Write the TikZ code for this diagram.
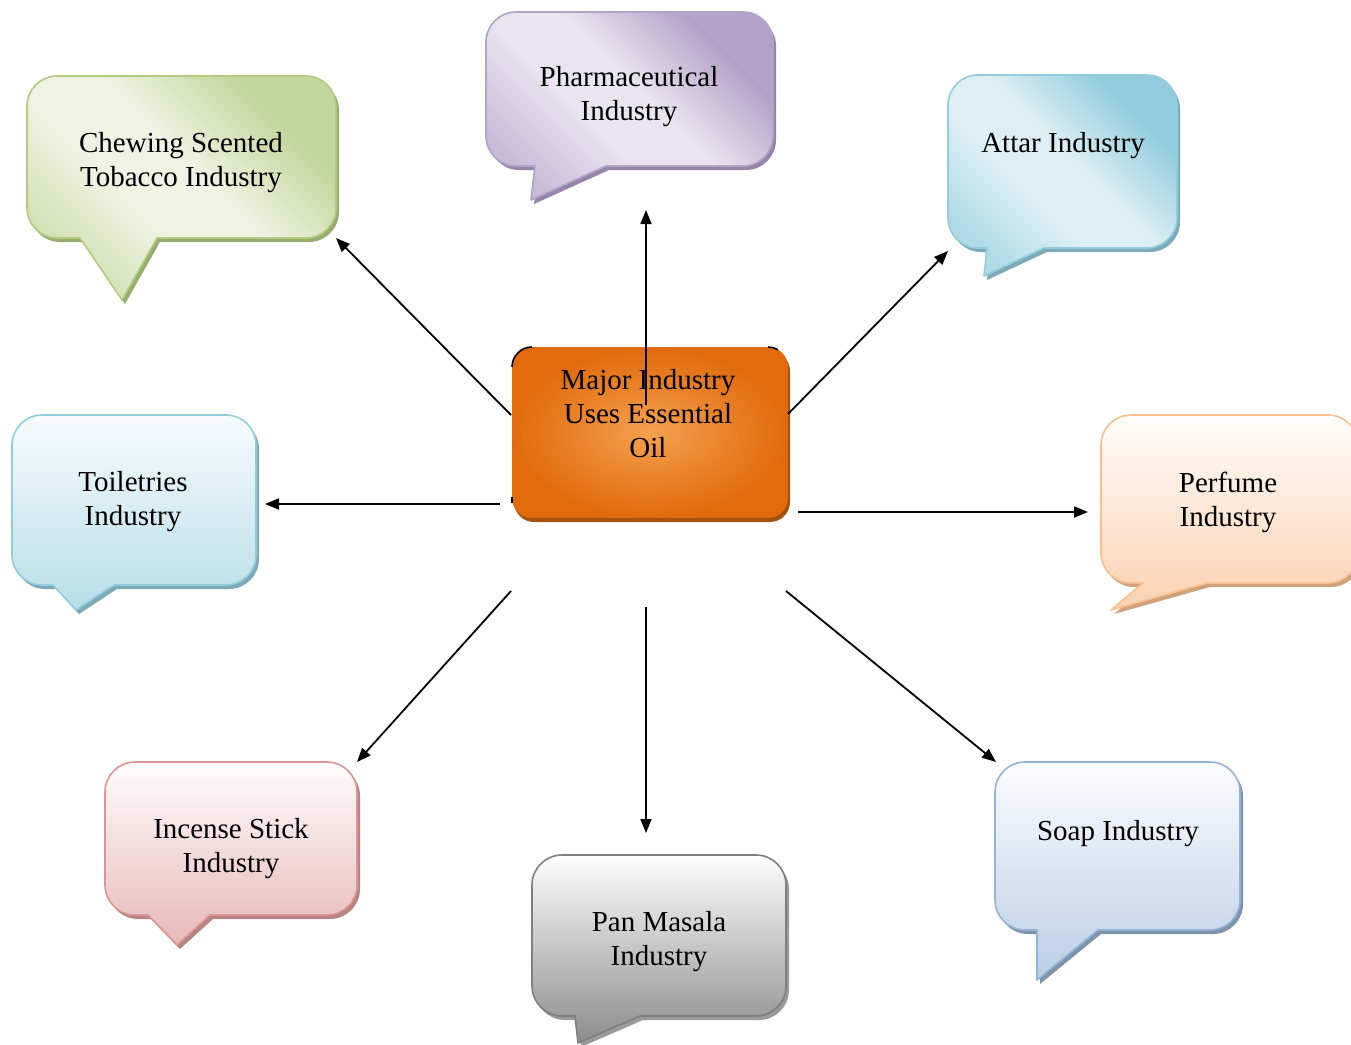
\documentclass[tikz,border=0pt]{standalone}
\usepackage{fontspec}
\setmainfont{Liberation Serif}
\usetikzlibrary{arrows.meta}
\definecolor{gDark}{HTML}{C3D69B}\definecolor{gLight}{HTML}{EEF4E4}\definecolor{gMid}{HTML}{D0DFB1}\definecolor{gLine}{HTML}{B3CB80}\definecolor{gSh}{HTML}{98AE70}
\definecolor{pDark}{HTML}{B3A2C7}\definecolor{pLight}{HTML}{E9E4EF}\definecolor{pMid}{HTML}{C8BBD8}\definecolor{pLine}{HTML}{B2A3C8}\definecolor{pSh}{HTML}{9585A8}
\definecolor{aDark}{HTML}{93CDDD}\definecolor{aLight}{HTML}{DEEFF4}\definecolor{aMid}{HTML}{ADDAE5}\definecolor{aLine}{HTML}{93CDDD}\definecolor{aSh}{HTML}{7CAAB7}
\definecolor{tTop}{HTML}{F7FBFD}\definecolor{tBot}{HTML}{B7DEE8}\definecolor{tLine}{HTML}{93CDDD}\definecolor{tSh}{HTML}{7CAAB7}
\definecolor{fTop}{HTML}{FFFCFA}\definecolor{fBot}{HTML}{FAD1B1}\definecolor{fLine}{HTML}{F9C091}\definecolor{fSh}{HTML}{D0A27C}
\definecolor{iTop}{HTML}{FFFCFC}\definecolor{iBot}{HTML}{E6B9B8}\definecolor{iLine}{HTML}{D99694}\definecolor{iSh}{HTML}{B58483}
\definecolor{mTop}{HTML}{FEFEFE}\definecolor{mBot}{HTML}{8C8C8C}\definecolor{mLine}{HTML}{7F7F7F}\definecolor{mSh}{HTML}{9A9A9A}
\definecolor{sTop}{HTML}{FCFDFE}\definecolor{sBot}{HTML}{B9CDE5}\definecolor{sLine}{HTML}{95B3D7}\definecolor{sSh}{HTML}{7F93AB}
\definecolor{oOut}{HTML}{E06A0C}\definecolor{oIn}{HTML}{F5A04E}\definecolor{oSh}{HTML}{A4520C}
\pgfdeclareverticalshading{gdiag}{100bp}{color(0bp)=(gMid); color(24bp)=(gMid); color(42bp)=(gLight); color(54bp)=(gLight); color(72bp)=(gDark); color(100bp)=(gDark)}
\pgfdeclareverticalshading{pdiag}{100bp}{color(0bp)=(pMid); color(24bp)=(pMid); color(42bp)=(pLight); color(54bp)=(pLight); color(72bp)=(pDark); color(100bp)=(pDark)}
\pgfdeclareverticalshading{adiag}{100bp}{color(0bp)=(aMid); color(24bp)=(aMid); color(42bp)=(aLight); color(54bp)=(aLight); color(72bp)=(aDark); color(100bp)=(aDark)}
\tikzset{
  bubble/.style n args={8}{insert path={(#1,#2+30) arc[start angle=180,end angle=270,radius=30] -- (#3-30,#2) arc[start angle=270,end angle=360,radius=30] -- (#3,#4-30) arc[start angle=0,end angle=90,radius=30] -- (#6,#4) -- (#7,#8) -- (#5,#4) -- (#1+30,#4) arc[start angle=90,end angle=180,radius=30] -- cycle}},
  bline/.style={line width=1.6pt, line join=round},
  greenfill/.style={bline, draw=gLine, shade, shading=gdiag, shading angle=-45},
  greenshadow/.style={fill=gSh},
  purplefill/.style={bline, draw=pLine, shade, shading=pdiag, shading angle=-45},
  purpleshadow/.style={fill=pSh},
  aquafill/.style={bline, draw=aLine, shade, shading=adiag, shading angle=-45},
  aquashadow/.style={fill=aSh},
  toilfill/.style={bline, draw=tLine, top color=tTop, bottom color=tBot},
  toilshadow/.style={fill=tSh},
  perffill/.style={bline, draw=fLine, top color=fTop, bottom color=fBot},
  perfshadow/.style={fill=fSh},
  incfill/.style={bline, draw=iLine, top color=iTop, bottom color=iBot},
  incshadow/.style={fill=iSh},
  panfill/.style={bline, draw=mLine, top color=mTop, bottom color=mBot},
  panshadow/.style={fill=mSh},
  soapfill/.style={bline, draw=sLine, top color=sTop, bottom color=sBot},
  soapshadow/.style={fill=sSh},
  txt/.style={align=center, inner sep=0pt, font=\fontsize{29}{34}\selectfont},
  cbox/.style={rounded corners=20pt, minimum width=276pt, minimum height=171pt, inner color=oIn, outer color=oOut},
  arr/.style={line width=1.8pt, -{Triangle[length=14pt,width=11pt]}},
  glitch/.style={line width=1.6pt, black}
}
\newcommand\Bubble[9]{%
  \fill[#1shadow, shift={(3,4)}, bubble={#2}{#3}{#4}{#5}{#6}{#7}{#8}{#9}];
  \draw[#1fill, bubble={#2}{#3}{#4}{#5}{#6}{#7}{#8}{#9}];}
\begin{document}
\begin{tikzpicture}[x=1pt,y=-1pt]
\useasboundingbox (0,0) rectangle (1351,1044);
\fill[white] (0,0) rectangle (1351,1044);
% bubbles
\Bubble{green}{27}{76}{336}{238}{80}{157}{122}{300}
\node[txt] (chew) at (181,163) {Chewing Scented\\Tobacco Industry};
\Bubble{purple}{486}{12}{773}{166}{535}{606}{531}{200}
\node[txt] (pharma) at (629,97) {Pharmaceutical\\Industry};
\Bubble{aqua}{948}{75}{1177}{248}{987}{1044}{984}{276}
\node[txt] (attar) at (1063,146) {Attar Industry};
\Bubble{toil}{12}{415}{256}{585}{53}{114}{76}{610}
\node[txt] (toil) at (133,502) {Toiletries\\Industry};
\Bubble{perf}{1101}{415}{1358}{583}{1143}{1207}{1111}{610}
\node[txt] (perf) at (1228,502) {Perfume\\Industry};
\Bubble{inc}{105}{762}{357}{915}{148}{210}{177}{945}
\node[txt] (inc) at (231,849) {Incense Stick\\Industry};
\Bubble{pan}{532}{855}{786}{1016}{575}{640}{578}{1043}
\node[txt] (pan) at (659,942) {Pan Masala\\Industry};
\Bubble{soap}{995}{762}{1240}{930}{1037}{1098}{1037}{980}
\node[txt] (soap) at (1118,834) {Soap Industry};
% central box
\fill[oSh, rounded corners=20pt] (514,351) rectangle (790,522);
\node[cbox] (center) at (650,432.5) {};
\node[txt] (centertxt) at (648,414) {Major Industry\\Uses Essential\\Oil};
\draw[glitch] (512,367) arc[start angle=180,end angle=270,radius=20];
\draw[glitch] (768,347) arc[start angle=270,end angle=300,radius=20];
\draw[glitch] (512,497) -- (512,503);
% arrow end points
\coordinate (s1) at (646,405);  \coordinate (e1) at (646,210);
\coordinate (s2) at (511,415);  \coordinate (e2) at (336,238);
\coordinate (s3) at (788,414);  \coordinate (e3) at (948,251);
\coordinate (s4) at (500,504);  \coordinate (e4) at (265,504);
\coordinate (s5) at (798,512);  \coordinate (e5) at (1088,512);
\coordinate (s6) at (511,591);  \coordinate (e6) at (357,762);
\coordinate (s7) at (646,607);  \coordinate (e7) at (646,833);
\coordinate (s8) at (786,591);  \coordinate (e8) at (996,762);
\foreach \i in {1,...,8} \draw[arr] (s\i) -- (e\i);
\end{tikzpicture}
\end{document}
